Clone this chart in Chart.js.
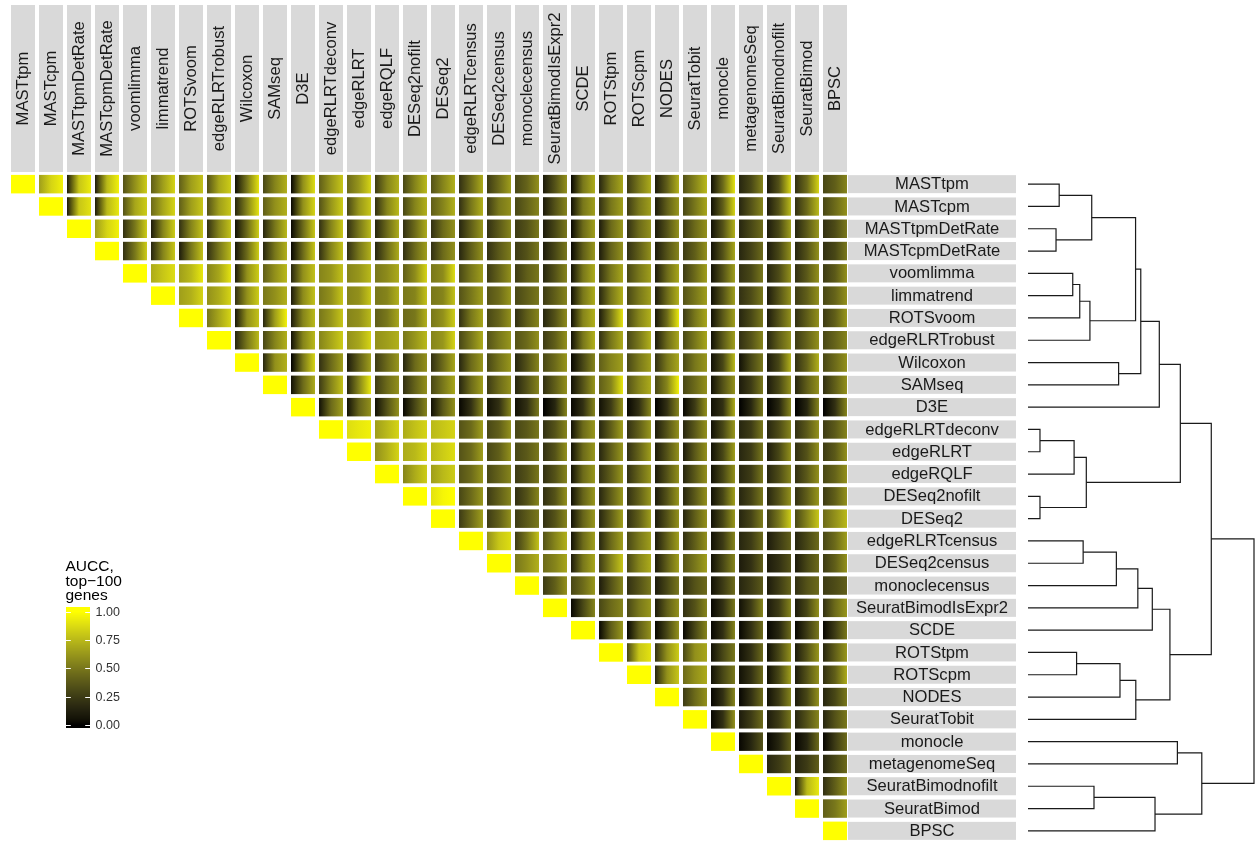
<!DOCTYPE html>
<html>
<head>
<meta charset="utf-8">
<script src="https://cdn.jsdelivr.net/npm/chart.js@4.4.1/dist/chart.umd.min.js"></script>
<style>
  html, body { margin: 0; padding: 0; background: #fff; }
  #wrap { position: relative; width: 1257px; height: 842px; overflow: hidden; }
  #heat { position: absolute; left: 0; top: 0; }
  #dendro { position: absolute; left: 1020px; top: 0; }
</style>
</head>
<body>
<div id="wrap">
  <canvas id="heat" width="1257" height="842"></canvas>
  <canvas id="dendro" width="237" height="842"></canvas>
</div>
<script>
// methods in dendrogram order (rows top to bottom, columns left to right)
const methods = [
  'MASTtpm', 'MASTcpm', 'MASTtpmDetRate', 'MASTcpmDetRate', 'voomlimma', 'limmatrend',
  'ROTSvoom', 'edgeRLRTrobust', 'Wilcoxon', 'SAMseq', 'D3E', 'edgeRLRTdeconv', 'edgeRLRT',
  'edgeRQLF', 'DESeq2nofilt', 'DESeq2', 'edgeRLRTcensus', 'DESeq2census', 'monoclecensus',
  'SeuratBimodIsExpr2', 'SCDE', 'ROTStpm', 'ROTScpm', 'NODES', 'SeuratTobit', 'monocle',
  'metagenomeSeq', 'SeuratBimodnofilt', 'SeuratBimod', 'BPSC'
];

// AUCC per pair of methods, upper triangle only: row r holds columns r..29.
// low = worst data set, mid = typical, high = best data set
const auccLow = [
  [1, 0.65,0.10,0.10,0.35,0.40,0.40,0.35,0.05,0.30,0.02,0.40,0.45,0.25,0.30, 0.35,0.20,0.25,0.30,0.10,0.02,0.15,0.25,0.10,0.35,0.05,0.15,0.10,0.20,0.30],
  [1, 0.10,0.10,0.35,0.45,0.40,0.35,0.15,0.40,0.02,0.35,0.30,0.20,0.30, 0.40,0.20,0.25,0.30,0.10,0.05,0.20,0.25,0.10,0.30,0.05,0.15,0.10,0.20,0.30],
  [1, 0.65,0.20,0.10,0.20,0.20,0.05,0.15,0.02,0.20,0.20,0.15,0.20, 0.20,0.15,0.20,0.25,0.10,0.02,0.10,0.20,0.10,0.25,0.05,0.15,0.10,0.15,0.20],
  [1, 0.20,0.15,0.10,0.20,0.08,0.15,0.02,0.20,0.20,0.15,0.20, 0.20,0.15,0.20,0.25,0.10,0.02,0.10,0.20,0.10,0.25,0.05,0.15,0.10,0.15,0.20],
  [1, 0.70,0.65,0.55,0.10,0.40,0.15,0.55,0.55,0.50,0.40, 0.50,0.30,0.25,0.25,0.15,0.05,0.20,0.30,0.10,0.25,0.05,0.20,0.15,0.20,0.25],
  [1, 0.65,0.60,0.20,0.50,0.10,0.50,0.55,0.50,0.50, 0.50,0.35,0.35,0.30,0.25,0.05,0.15,0.30,0.10,0.35,0.05,0.20,0.10,0.25,0.30],
  [1, 0.50,0.08,0.15,0.10,0.50,0.55,0.40,0.45, 0.50,0.20,0.30,0.20,0.15,0.05,0.10,0.30,0.08,0.25,0.05,0.15,0.10,0.20,0.25],
  [1, 0.15,0.30,0.05,0.55,0.60,0.60,0.50, 0.55,0.30,0.35,0.35,0.25,0.05,0.20,0.30,0.10,0.30,0.05,0.20,0.15,0.25,0.30],
  [1, 0.15,0.00,0.20,0.10,0.25,0.15, 0.20,0.15,0.30,0.15,0.30,0.02,0.40,0.30,0.20,0.30,0.05,0.05,0.10,0.20,0.30],
  [1, 0.05,0.25,0.15,0.25,0.20, 0.30,0.15,0.25,0.15,0.20,0.05,0.40,0.35,0.30,0.30,0.05,0.10,0.10,0.15,0.20],
  [1, 0.05,0.05,0.05,0.02, 0.05,0.02,0.05,0.05,0.00,0.02,0.05,0.02,0.00,0.02,0.05,0.00,0.00,0.00,0.00],
  [1, 0.88,0.65,0.70, 0.75,0.35,0.30,0.30,0.20,0.05,0.15,0.20,0.10,0.15,0.05,0.15,0.15,0.20,0.25],
  [1, 0.60,0.70, 0.75,0.35,0.30,0.30,0.20,0.05,0.15,0.20,0.10,0.10,0.05,0.15,0.10,0.20,0.25],
  [1, 0.55, 0.65,0.35,0.30,0.25,0.20,0.05,0.20,0.20,0.10,0.15,0.05,0.15,0.15,0.20,0.30],
  [1, 0.90,0.30,0.25,0.20,0.20,0.05,0.15,0.20,0.10,0.15,0.05,0.15,0.15,0.20,0.25],
  [1, 0.25,0.25,0.25,0.20,0.05,0.15,0.20,0.10,0.15,0.05,0.15,0.25,0.30,0.45],
  [1, 0.60,0.25,0.35,0.05,0.15,0.30,0.10,0.20,0.05,0.15,0.10,0.15,0.30],
  [1, 0.50,0.45,0.10,0.25,0.30,0.10,0.35,0.05,0.10,0.10,0.10,0.25],
  [1, 0.25,0.30,0.10,0.20,0.10,0.20,0.05,0.15,0.10,0.20,0.25],
  [1, 0.02,0.30,0.30,0.10,0.20,0.02,0.05,0.10,0.10,0.20],
  [1, 0.02,0.02,0.02,0.02,0.02,0.02,0.02,0.02,0.02],
  [1, 0.30,0.20,0.30,0.05,0.05,0.05,0.10,0.15],
  [1, 0.15,0.45,0.05,0.05,0.05,0.10,0.20],
  [1, 0.25,0.02,0.02,0.05,0.10,0.15],
  [1, 0.02,0.10,0.10,0.15,0.15],
  [1, 0.02,0.02,0.02,0.02],
  [1, 0.15,0.15,0.15],
  [1, 0.10,0.20],
  [1, 0.40],
  [1]
];

const auccMid = [
  [1, 0.85,0.80,0.75,0.60,0.65,0.65,0.68,0.50,0.55,0.60,0.62,0.62,0.55,0.55, 0.55,0.45,0.45,0.42,0.35,0.50,0.50,0.50,0.40,0.55,0.45,0.30,0.35,0.45,0.40],
  [1, 0.80,0.75,0.68,0.68,0.65,0.65,0.55,0.60,0.60,0.62,0.62,0.55,0.55, 0.55,0.50,0.50,0.42,0.35,0.50,0.50,0.50,0.40,0.50,0.40,0.35,0.35,0.45,0.45],
  [1, 0.85,0.50,0.55,0.55,0.55,0.45,0.50,0.45,0.55,0.50,0.45,0.45, 0.45,0.40,0.38,0.35,0.30,0.45,0.45,0.45,0.35,0.45,0.35,0.30,0.30,0.38,0.32],
  [1, 0.50,0.55,0.50,0.50,0.45,0.50,0.45,0.55,0.50,0.45,0.45, 0.45,0.40,0.38,0.35,0.30,0.40,0.42,0.40,0.35,0.40,0.35,0.28,0.30,0.35,0.30],
  [1, 0.80,0.75,0.68,0.60,0.60,0.60,0.62,0.62,0.58,0.58, 0.58,0.50,0.42,0.40,0.35,0.50,0.50,0.50,0.45,0.45,0.35,0.30,0.32,0.38,0.38],
  [1, 0.72,0.70,0.60,0.60,0.58,0.60,0.60,0.55,0.55, 0.55,0.50,0.45,0.40,0.40,0.50,0.50,0.50,0.45,0.50,0.35,0.32,0.35,0.40,0.42],
  [1, 0.68,0.60,0.65,0.55,0.62,0.60,0.50,0.50, 0.60,0.50,0.42,0.40,0.35,0.55,0.50,0.55,0.45,0.50,0.38,0.30,0.35,0.40,0.40],
  [1, 0.50,0.55,0.55,0.68,0.68,0.65,0.62, 0.62,0.50,0.50,0.45,0.40,0.50,0.50,0.50,0.45,0.50,0.38,0.35,0.40,0.42,0.42],
  [1, 0.60,0.50,0.45,0.40,0.45,0.45, 0.45,0.45,0.48,0.35,0.45,0.30,0.55,0.50,0.50,0.50,0.30,0.30,0.30,0.42,0.45],
  [1, 0.45,0.55,0.55,0.45,0.42, 0.50,0.45,0.45,0.35,0.40,0.35,0.55,0.55,0.55,0.45,0.35,0.25,0.30,0.40,0.40],
  [1, 0.45,0.42,0.35,0.30, 0.38,0.20,0.20,0.20,0.15,0.20,0.25,0.20,0.20,0.25,0.20,0.15,0.15,0.15,0.20],
  [1, 0.92,0.75,0.78, 0.80,0.45,0.40,0.38,0.35,0.45,0.40,0.40,0.35,0.38,0.30,0.25,0.32,0.38,0.38],
  [1, 0.72,0.75, 0.82,0.45,0.40,0.38,0.35,0.45,0.40,0.42,0.35,0.38,0.30,0.25,0.30,0.35,0.38],
  [1, 0.70, 0.75,0.45,0.42,0.35,0.35,0.45,0.40,0.42,0.35,0.38,0.30,0.25,0.32,0.38,0.42],
  [1, 0.97,0.45,0.40,0.35,0.35,0.42,0.40,0.40,0.35,0.38,0.30,0.28,0.35,0.40,0.40],
  [1, 0.45,0.40,0.38,0.35,0.42,0.40,0.40,0.35,0.40,0.30,0.28,0.50,0.55,0.60],
  [1, 0.80,0.50,0.55,0.45,0.45,0.50,0.40,0.40,0.25,0.25,0.25,0.30,0.45],
  [1, 0.60,0.55,0.50,0.55,0.55,0.40,0.50,0.30,0.20,0.20,0.30,0.40],
  [1, 0.40,0.45,0.35,0.35,0.30,0.35,0.25,0.25,0.25,0.35,0.32],
  [1, 0.30,0.45,0.50,0.40,0.35,0.20,0.25,0.25,0.30,0.45],
  [1, 0.40,0.40,0.30,0.30,0.20,0.20,0.15,0.25,0.25],
  [1, 0.80,0.60,0.60,0.30,0.20,0.30,0.35,0.40],
  [1, 0.60,0.60,0.30,0.20,0.30,0.35,0.40],
  [1, 0.45,0.20,0.20,0.25,0.30,0.30],
  [1, 0.20,0.25,0.25,0.35,0.35],
  [1, 0.15,0.15,0.15,0.25],
  [1, 0.25,0.25,0.30],
  [1, 0.75,0.40],
  [1, 0.50],
  [1]
];

const auccHigh = [
  [1, 0.95,0.93,0.95,0.82,0.85,0.78,0.82,0.90,0.72,0.88,0.80,0.85,0.72,0.75, 0.72,0.70,0.65,0.60,0.60,0.70,0.68,0.70,0.72,0.75,0.90,0.55,0.85,0.85,0.55],
  [1, 0.90,0.92,0.82,0.85,0.80,0.80,0.90,0.72,0.85,0.82,0.80,0.75,0.72, 0.72,0.72,0.60,0.55,0.55,0.65,0.65,0.65,0.62,0.68,0.85,0.55,0.75,0.75,0.60],
  [1, 0.95,0.82,0.82,0.78,0.78,0.82,0.75,0.80,0.80,0.75,0.70,0.70, 0.60,0.62,0.55,0.50,0.50,0.65,0.62,0.60,0.60,0.60,0.72,0.45,0.65,0.62,0.50],
  [1, 0.82,0.80,0.78,0.75,0.82,0.72,0.80,0.78,0.72,0.70,0.65, 0.60,0.60,0.52,0.50,0.50,0.62,0.60,0.60,0.55,0.60,0.68,0.45,0.60,0.60,0.50],
  [1, 0.88,0.92,0.90,0.82,0.75,0.78,0.78,0.75,0.70,0.85, 0.88,0.65,0.60,0.50,0.55,0.70,0.68,0.65,0.68,0.65,0.65,0.50,0.60,0.60,0.60],
  [1, 0.85,0.85,0.82,0.72,0.78,0.80,0.80,0.72,0.78, 0.78,0.65,0.62,0.50,0.55,0.70,0.72,0.65,0.72,0.65,0.65,0.50,0.60,0.60,0.60],
  [1, 0.85,0.78,0.95,0.75,0.80,0.75,0.68,0.72, 0.82,0.68,0.60,0.55,0.58,0.72,0.90,0.72,0.92,0.68,0.65,0.50,0.60,0.60,0.62],
  [1, 0.75,0.72,0.75,0.82,0.85,0.72,0.75, 0.85,0.70,0.62,0.60,0.60,0.72,0.70,0.72,0.68,0.68,0.65,0.55,0.60,0.60,0.55],
  [1, 0.72,0.85,0.65,0.65,0.62,0.60, 0.68,0.62,0.62,0.55,0.62,0.55,0.65,0.65,0.68,0.62,0.75,0.50,0.72,0.72,0.60],
  [1, 0.70,0.78,0.92,0.60,0.60, 0.68,0.65,0.60,0.55,0.60,0.62,0.92,0.70,0.95,0.60,0.60,0.50,0.60,0.60,0.60],
  [1, 0.65,0.60,0.60,0.55, 0.60,0.55,0.55,0.50,0.55,0.55,0.60,0.55,0.55,0.60,0.70,0.50,0.55,0.55,0.55],
  [1, 0.95,0.85,0.85, 0.85,0.65,0.60,0.50,0.55,0.62,0.65,0.62,0.60,0.60,0.62,0.50,0.55,0.60,0.55],
  [1, 0.85,0.85, 0.88,0.65,0.60,0.50,0.60,0.62,0.62,0.65,0.60,0.60,0.65,0.50,0.60,0.60,0.60],
  [1, 0.82, 0.82,0.62,0.55,0.50,0.55,0.62,0.62,0.62,0.60,0.60,0.60,0.50,0.55,0.60,0.60],
  [1, 1.00,0.62,0.55,0.55,0.60,0.62,0.62,0.62,0.62,0.60,0.65,0.50,0.60,0.62,0.60],
  [1, 0.65,0.60,0.50,0.55,0.62,0.65,0.65,0.60,0.60,0.62,0.52,0.82,0.80,0.75],
  [1, 0.88,0.78,0.72,0.65,0.65,0.65,0.65,0.60,0.55,0.45,0.40,0.45,0.65],
  [1, 0.72,0.68,0.68,0.80,0.70,0.65,0.65,0.55,0.40,0.35,0.45,0.60],
  [1, 0.60,0.62,0.55,0.50,0.50,0.45,0.45,0.38,0.42,0.45,0.40],
  [1, 0.55,0.55,0.62,0.60,0.55,0.50,0.55,0.55,0.60,0.62],
  [1, 0.62,0.60,0.60,0.55,0.55,0.45,0.45,0.50,0.50],
  [1, 0.90,0.82,0.68,0.50,0.45,0.60,0.62,0.62],
  [1, 0.80,0.70,0.50,0.45,0.65,0.60,0.70],
  [1, 0.60,0.55,0.45,0.55,0.60,0.50],
  [1, 0.60,0.45,0.50,0.55,0.50],
  [1, 0.35,0.40,0.45,0.45],
  [1, 0.40,0.40,0.45],
  [1, 0.92,0.60],
  [1, 0.65],
  [1]
];

// hierarchical clustering, hclust style: -k is leaf k (1-based), +m is merge m
const mergeLeft  = [-1, -3, 1, -5, 4, 5, 3, -9, 7, 9, -12, 11, -15, 12, 10, -17, 16, 17, 18, -22, 20, 21, 19, 15, -26, -28, 26, 25, 24];
const mergeRight = [-2, -4, 2, -6, -7, -8, 6, -10, 8, -11, -13, -14, -16, 13, 14, -18, -19, -20, -21, -23, -24, -25, 22, 23, -27, -29, -30, 27, 28];
const mergeHeight = [0.138, 0.124, 0.282, 0.198, 0.229, 0.274, 0.476, 0.401, 0.499, 0.581,
  0.053, 0.204, 0.053, 0.258, 0.674, 0.244, 0.391, 0.486, 0.550, 0.215,
  0.407, 0.477, 0.628, 0.811, 0.661, 0.292, 0.562, 0.769, 1.0];

const legendTicks = [0, 0.25, 0.5, 0.75, 1];
const legendTitle = ['AUCC,', 'top\u2212100', 'genes'];

const FONT = '"Liberation Sans", Arial, Helvetica, sans-serif';
const CELL_FRAC = 24 / 28;   // share of a column taken by a tile
const CELL_HALF_H = 0.415;   // half tile height, in row units

// black -> yellow ramp interpolated in CIE Lab
function auccColor(v) {
  v = Math.min(1, Math.max(0, v));
  const L = 97.1393 * v, A = -21.5537 * v, B = 94.478 * v;
  const fy = (L + 16) / 116, fx = fy + A / 500, fz = fy - B / 200;
  const eps = 216 / 24389, kap = 24389 / 27;
  const inv = (t) => (t * t * t > eps ? t * t * t : (116 * t - 16) / kap);
  const X = 0.95047 * inv(fx);
  const Y = L > kap * eps ? fy * fy * fy : L / kap;
  const Z = 1.08883 * inv(fz);
  const r = 3.2404542 * X - 1.5371385 * Y - 0.4985314 * Z;
  const g = -0.969266 * X + 1.8760108 * Y + 0.041556 * Z;
  const b = 0.0556434 * X - 0.2040259 * Y + 1.0572252 * Z;
  const gam = (c) => {
    c = Math.min(1, Math.max(0, c));
    return Math.round(255 * (c <= 0.0031308 ? 12.92 * c : 1.055 * Math.pow(c, 1 / 2.4) - 0.055));
  };
  return `rgb(${gam(r)},${gam(g)},${gam(b)})`;
}

const cells = [];
auccLow.forEach((row, r) => {
  row.forEach((lo, k) => {
    cells.push({
      x: r + k,
      y: [r - CELL_HALF_H, r + CELL_HALF_H],
      lo,
      mid: auccMid[r][k],
      hi: auccHigh[r][k]
    });
  });
});

function cellFill(ctx) {
  const cell = ctx.raw;
  if (!cell || !ctx.chart.chartArea) return '#000';
  const xs = ctx.chart.scales.x;
  const cx = xs.getPixelForValue(cell.x);
  const half = (xs.getPixelForValue(1) - xs.getPixelForValue(0)) * CELL_FRAC / 2;
  const grad = ctx.chart.ctx.createLinearGradient(cx - half, 0, cx + half, 0);
  grad.addColorStop(0, auccColor(cell.lo));
  grad.addColorStop(0.5, auccColor(cell.mid));
  grad.addColorStop(1, auccColor(cell.hi));
  return grad;
}

// method strips on top and right, plus the colour bar legend
const labelPlugin = {
  id: 'methodLabels',
  afterDraw(chart) {
    const { ctx } = chart;
    const xs = chart.scales.x, ys = chart.scales.y;
    const colW = (xs.getPixelForValue(1) - xs.getPixelForValue(0)) * CELL_FRAC;
    ctx.save();
    ctx.font = `16.6px ${FONT}`;
    ctx.textAlign = 'center';
    ctx.textBaseline = 'middle';
    methods.forEach((m, i) => {
      const cx = xs.getPixelForValue(i);
      ctx.fillStyle = '#d9d9d9';
      ctx.fillRect(cx - colW / 2, 5, colW, 167);
      ctx.save();
      ctx.translate(cx + 0.5, 88.5);
      ctx.rotate(-Math.PI / 2);
      ctx.fillStyle = '#1a1a1a';
      ctx.fillText(m, 0, 0);
      ctx.restore();

      const cy = ys.getPixelForValue(i);
      ctx.fillStyle = '#d9d9d9';
      ctx.fillRect(848, cy - 9, 168, 18);
      ctx.fillStyle = '#1a1a1a';
      ctx.fillText(m, 932, cy + 0.5);
    });

    // legend
    const barL = 66, barW = 24, barTop = 607, barBot = 728;
    const v0 = 725, v1 = 611.7;
    const yOf = (v) => v0 + (v1 - v0) * v;
    for (let y = barTop; y < barBot; y++) {
      ctx.fillStyle = auccColor((y + 0.5 - v0) / (v1 - v0));
      ctx.fillRect(barL, y, barW, 1);
    }
    ctx.strokeStyle = '#ffffff';
    ctx.lineWidth = 1;
    legendTicks.forEach((t) => {
      const y = Math.round(yOf(t)) + 0.5;
      ctx.beginPath();
      ctx.moveTo(barL, y); ctx.lineTo(barL + 4.8, y);
      ctx.moveTo(barL + barW - 4.8, y); ctx.lineTo(barL + barW, y);
      ctx.stroke();
    });
    ctx.fillStyle = '#333333';
    ctx.textAlign = 'left';
    ctx.font = `12.5px ${FONT}`;
    legendTicks.forEach((t) => ctx.fillText(t.toFixed(2), 95.5, yOf(t) + 0.5));
    ctx.fillStyle = '#000000';
    ctx.font = `15.5px ${FONT}`;
    ctx.textBaseline = 'alphabetic';
    legendTitle.forEach((line, i) => ctx.fillText(line, 65.5, 571 + i * 14.5));
    ctx.restore();
  }
};

new Chart(document.getElementById('heat'), {
  type: 'bar',
  data: {
    datasets: [{
      data: cells,
      backgroundColor: cellFill,
      borderWidth: 0,
      inflateAmount: 0,
      barPercentage: 1,
      categoryPercentage: CELL_FRAC,
      grouped: false
    }]
  },
  options: {
    responsive: false,
    animation: false,
    devicePixelRatio: 1,
    layout: { padding: { left: 9, top: 173, right: 408, bottom: 0 } },
    scales: {
      x: { type: 'linear', min: -0.5, max: 29.5, offset: false, display: false },
      y: { type: 'linear', min: -0.5, max: 29.5, reverse: true, display: false }
    },
    plugins: { legend: { display: false }, tooltip: { enabled: false } }
  },
  plugins: [labelPlugin]
});

// dendrogram: one elbow per merge, node position = midpoint of its children
const nodeY = [];
const place = (id) => (id < 0 ? { y: -id - 1, h: 0 } : { y: nodeY[id - 1], h: mergeHeight[id - 1] });
const dendroSets = mergeLeft.map((a, i) => {
  const L = place(a), R = place(mergeRight[i]);
  const h = mergeHeight[i];
  nodeY[i] = (L.y + R.y) / 2;
  return {
    data: [{ x: L.h, y: L.y }, { x: h, y: L.y }, { x: h, y: R.y }, { x: R.h, y: R.y }],
    showLine: true,
    borderColor: '#1a1a1a',
    borderWidth: 1.2,
    pointRadius: 0,
    tension: 0,
    clip: false
  };
});

new Chart(document.getElementById('dendro'), {
  type: 'scatter',
  data: { datasets: dendroSets },
  options: {
    responsive: false,
    animation: false,
    devicePixelRatio: 1,
    layout: { padding: { left: 8, right: 3, top: 173, bottom: 0 } },
    scales: {
      x: { type: 'linear', min: 0, max: 1, display: false },
      y: { type: 'linear', min: -0.5, max: 29.5, reverse: true, display: false }
    },
    plugins: { legend: { display: false }, tooltip: { enabled: false } }
  }
});
</script>
</body>
</html>
